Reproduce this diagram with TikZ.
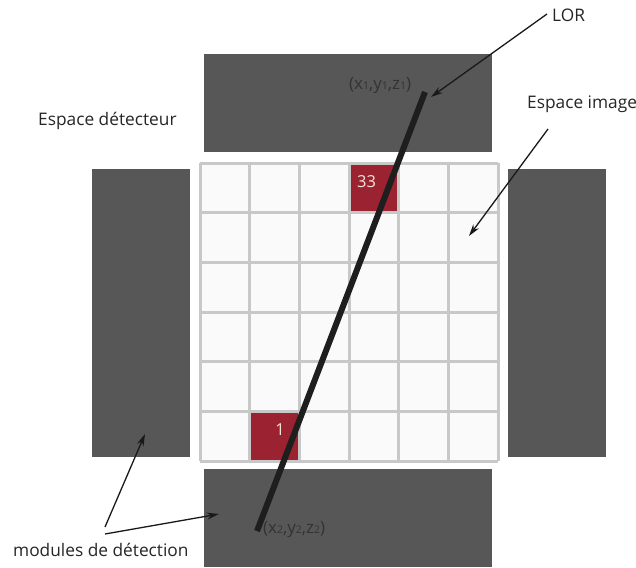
\documentclass[tikz,border=0pt]{standalone}
\usepackage{fontspec}
\setmainfont{Open Sans}
\usetikzlibrary{arrows.meta}
\definecolor{modgray}{HTML}{575757}
\definecolor{gridline}{HTML}{C8C8C8}
\definecolor{cellfill}{HTML}{FAFAFA}
\definecolor{cellred}{HTML}{9B2230}
\definecolor{lorcol}{HTML}{1E1E1E}
\definecolor{coordtxt}{HTML}{333333}
\definecolor{celltxt}{HTML}{F2E4D8}
\tikzset{
  module/.style={fill=modgray, draw=none, inner sep=0pt},
  lbl/.style={font=\fontsize{17.3}{20}\selectfont, text=black!85, inner sep=0pt},
  coordlbl/.style={font=\fontsize{17}{19}\selectfont, text=coordtxt, inner sep=0pt},
  celllbl/.style={font=\fontsize{16.5}{19}\selectfont, text=celltxt, inner sep=0pt},
  pointer/.style={draw=black!90, line width=1.3pt, -{Stealth[length=12pt,width=7pt]}},
  lorline/.style={draw=lorcol, line width=6pt},
}
\newcommand{\sbs}[1]{{\fontsize{10.5}{11}\selectfont #1}}
\begin{document}
\begin{tikzpicture}[x=1pt,y=-1pt]
\useasboundingbox (0,0) rectangle (636,567);
\fill[white] (0,0) rectangle (636,567);
% modules
\node[module, minimum width=288pt, minimum height=98pt] (mtop) at (348,103) {};
\node[module, minimum width=288pt, minimum height=98pt] (mbot) at (348,518) {};
\node[module, minimum width=98pt, minimum height=288pt] (mleft) at (141,313) {};
\node[module, minimum width=98pt, minimum height=288pt] (mright) at (557,313) {};
% grid
\def\cs{49.67}
\fill[cellfill] (200,163) rectangle (498,461);
\fill[cellred] (349,163) rectangle (398.7,212.7);
\fill[cellred] (249.7,411.3) rectangle (299.3,461);
\foreach \i in {0,...,6} {
  \draw[gridline, line width=3pt] ({200+\i*\cs},163) -- ({200+\i*\cs},461);
  \draw[gridline, line width=3pt] (200,{163+\i*\cs}) -- (498,{163+\i*\cs});
}
\node[celllbl, anchor=base] (c33) at (366.5,187) {33};
\node[celllbl, anchor=base] (c1) at (280,435) {1};
% LOR
\coordinate (p1) at (425,92);
\coordinate (p2) at (257,531);
\draw[lorline] (p1) -- (p2);
\node[coordlbl, anchor=base west] (x1) at (349,89) {(x\sbs{1},y\sbs{1},z\sbs{1})};
\node[coordlbl, anchor=base west] (x2) at (263,533) {(x\sbs{2},y\sbs{2},z\sbs{2})};
% labels
\node[lbl, anchor=base west] (lor) at (552,22) {LOR};
\node[lbl, anchor=base west] (eimg) at (527,109) {Espace image};
\node[lbl, anchor=base west] (edet) at (38,125) {Espace détecteur};
\node[lbl, anchor=base west] (mods) at (13,556) {modules de détection};
% pointers
\coordinate (lortip) at (431,97);
\coordinate (imgtip) at (469,236);
\coordinate (lefttip) at (145,434);
\coordinate (bottip) at (219,514);
\coordinate (lorstart) at (547,14);
\coordinate (imgstart) at (548,129);
\coordinate (modstart1) at (105,527);
\coordinate (modstart2) at (105,534);
\draw[pointer] (lorstart) -- (lortip);
\draw[pointer] (imgstart) -- (imgtip);
\draw[pointer] (modstart1) -- (lefttip);
\draw[pointer] (modstart2) -- (bottip);
\end{tikzpicture}
\end{document}
